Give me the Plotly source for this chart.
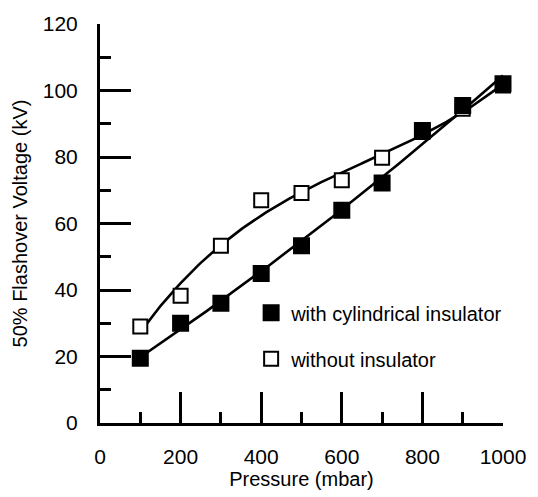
import numpy as np
import plotly.graph_objects as go

# ---- data ----
pressure = [100, 200, 300, 400, 500, 600, 700, 800, 900, 1000]
with_insulator = [19.5, 30, 36, 45, 53.3, 64, 72.2, 88, 95.5, 102]
without_insulator = [29, 38.3, 53.3, 67, 69.2, 73, 79.8, 87.5, 94.5, 101.5]
name_with = "with cylindrical insulator"
name_without = "without insulator"
x_title = "Pressure (mbar)"
y_title = "50% Flashover Voltage (kV)"

# polynomial trend lines (as in the original spreadsheet chart)
xs = np.linspace(min(pressure), max(pressure), 200)
fit_with = np.polyval(np.polyfit(pressure, with_insulator, 2), xs)
fit_without = np.polyval(np.polyfit(pressure, without_insulator, 3), xs)

FONT = "Arial, 'Liberation Sans', sans-serif"

fig = go.Figure()
fig.add_trace(go.Scatter(x=xs, y=fit_without, mode="lines",
                         line=dict(color="black", width=2.6),
                         showlegend=False, hoverinfo="skip", cliponaxis=False))
fig.add_trace(go.Scatter(x=xs, y=fit_with, mode="lines",
                         line=dict(color="black", width=2.6),
                         showlegend=False, hoverinfo="skip", cliponaxis=False))
fig.add_trace(go.Scatter(x=pressure, y=without_insulator, mode="markers",
                         name=name_without, legendgroup="b", legendrank=2,
                         marker=dict(symbol="square", size=14, color="white",
                                     line=dict(color="black", width=2)),
                         cliponaxis=False))
fig.add_trace(go.Scatter(x=pressure, y=with_insulator, mode="markers",
                         name=name_with, legendgroup="a", legendrank=1,
                         marker=dict(symbol="square", size=15, color="black",
                                     line=dict(color="black", width=2)),
                         cliponaxis=False))

fig.update_layout(
    width=538, height=497,
    margin=dict(l=100, r=28, t=18, b=71),
    paper_bgcolor="white", plot_bgcolor="white",
    font=dict(family=FONT, size=21, color="black"),
    showlegend=True,
    legend=dict(x=0.375, y=0.325, xanchor="left", yanchor="top",
                bgcolor="rgba(0,0,0,0)", borderwidth=0,
                font=dict(size=20), tracegroupgap=17),
    xaxis=dict(range=[0, 1000], showgrid=False, zeroline=False,
               showline=True, linecolor="black", linewidth=3,
               ticks="inside", ticklen=31, tickwidth=3, tickcolor="black",
               tickvals=[0, 200, 400, 600, 800, 1000],
               ticklabelstandoff=13,
               minor=dict(ticks="inside", ticklen=11, tickwidth=3,
                          tickcolor="black", dtick=100, showgrid=False),
               title=dict(text=x_title, font=dict(size=20), standoff=3)),
    yaxis=dict(range=[0, 120], showgrid=False, zeroline=False,
               showline=True, linecolor="black", linewidth=3,
               ticks="inside", ticklen=31, tickwidth=3, tickcolor="black",
               tickvals=[0, 20, 40, 60, 80, 100, 120],
               ticklabelstandoff=15,
               minor=dict(ticks="inside", ticklen=11, tickwidth=3,
                          tickcolor="black", dtick=10, showgrid=False),
               title=dict(text=y_title, font=dict(size=20), standoff=10)),
)

fig.write_html("out.html", config={"displayModeBar": False})
